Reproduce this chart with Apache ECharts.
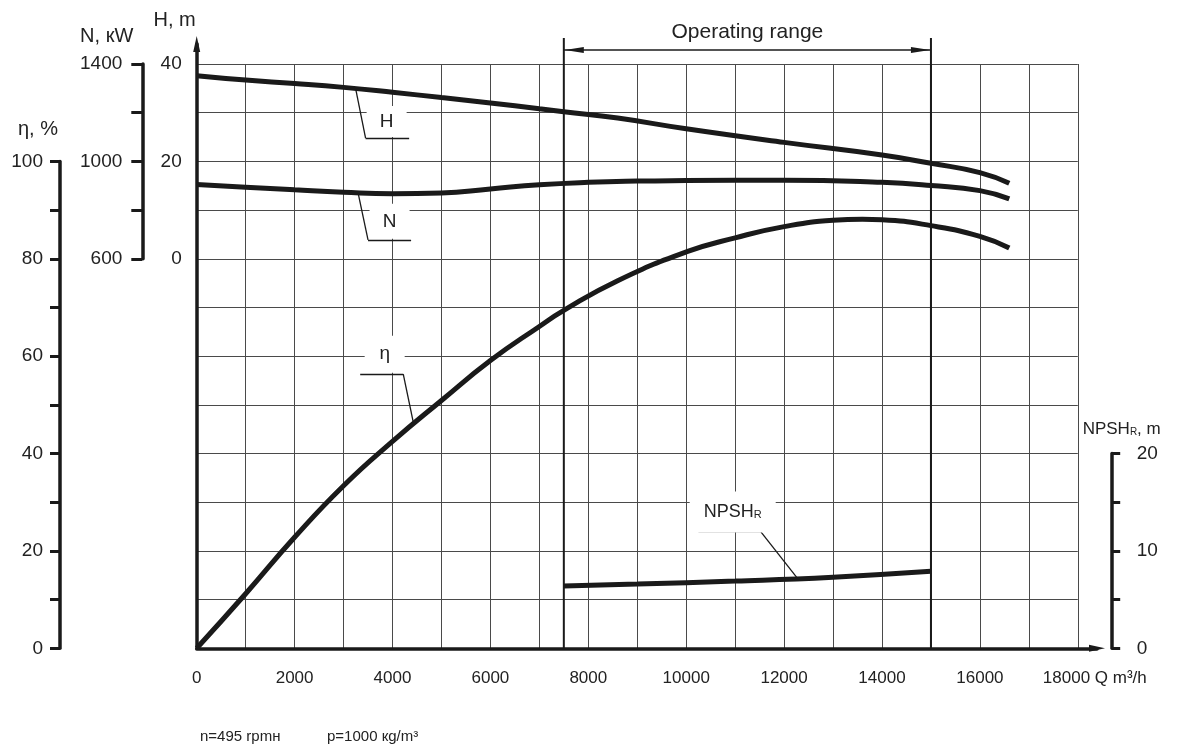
<!DOCTYPE html>
<html>
<head>
<meta charset="utf-8">
<title>Pump performance curves</title>
<script src="https://cdn.jsdelivr.net/npm/echarts@6/dist/echarts.min.js"></script>
<style>
  html, body { margin: 0; padding: 0; background: #fff; }
  #chart { width: 1177px; height: 749px; }
</style>
</head>
<body>
<div id="chart"></div>
<script>
// values, Q in m3/h
const headCurve = [[0, 37.6], [1000, 36.7], [2000, 36.0], [3000, 35.2], [4000, 34.2], [5000, 33.1], [6000, 32.0], [7000, 30.8], [7500, 30.2], [8600, 28.9], [10000, 26.7], [12000, 23.9], [14000, 21.3], [15000, 19.6], [16000, 17.7], [16600, 15.5]]
const powerCurve = [[0, 905], [1000, 894], [2000, 883], [3000, 873], [4000, 867], [5000, 870], [6000, 887], [7000, 904], [8000, 914], [9000, 919], [10000, 921], [12000, 923], [14000, 914], [15000, 901], [16000, 880], [16600, 846]]
const effCurve = [[0, 0], [1000, 11.2], [2000, 22.8], [3000, 33.4], [4000, 42.5], [5000, 50.9], [6000, 59.1], [7000, 66.1], [7500, 69.4], [8600, 75.5], [10000, 81.4], [11000, 84.3], [12000, 86.6], [13000, 87.9], [13600, 88.1], [14000, 88.0], [15000, 86.8], [16000, 84.6], [16600, 82.2]]
const npshCurve = [[7500, 6.4], [9000, 6.6], [11000, 6.9], [13000, 7.3], [15000, 7.9]]
const operatingRange = [7500, 15000]

// tick labels
const qLabels = [0, 2000, 4000, 6000, 8000, 10000, 12000, 14000, 16000, 18000]
const etaLabels = [0, 20, 40, 60, 80, 100]
const headLabels = [0, 20, 40]
const powerLabels = [600, 1000, 1400]
const npshLabels = [0, 10, 20]

// callouts, in Q / eta coordinates
const callouts = [
  { text: 'H', box: [3880, 108.2], leader: [[3250, 114.8], [3450, 104.8], [4340, 104.8]] },
  { text: 'N', box: [3940, 87.7], leader: [[3300, 93.4], [3500, 83.9], [4380, 83.9]] },
  { text: 'η', box: [3840, 60.4], leader: [[3340, 56.3], [4220, 56.3], [4425, 46.4]] },
  { text: '{a|NPSH}{r|R}', box: [10950, 28.0], leader: [[10250, 24.1], [11510, 24.1], [12270, 14.4]] }
]
const boxSizes = [[40, 31], [40, 35], [40, 37], [86, 41]]

const plot = { left: 196.7, right: 1077.8, top: 64, bottom: 648.3 }
const row = (plot.bottom - plot.top) / 12
const ink = '#1a1a1a'
const textColor = '#222'
const font = "'Liberation Sans', Arial, Helvetica, sans-serif"

const chart = echarts.init(document.getElementById('chart'), null, { renderer: 'canvas' })

function pick(list) {
  return v => (list.includes(v) ? String(v) : '')
}

function nameStyle(extra) {
  return Object.assign({ color: textColor, fontSize: 20, fontFamily: font }, extra)
}

function bracketAxis(grid, min, max, step, labels, opts) {
  return Object.assign({
    type: 'value', gridIndex: grid, min: min, max: max, interval: step,
    axisLine: { show: true, lineStyle: { color: ink, width: 3.5 } },
    axisTick: { show: true, length: 10, lineStyle: { color: ink, width: 3 } },
    axisLabel: { formatter: pick(labels), color: textColor, fontSize: 19, fontFamily: font, margin: 17 },
    splitLine: { show: false }
  }, opts)
}

function hiddenX(grid) {
  return { type: 'value', gridIndex: grid, show: false, min: 0, max: 1 }
}

function curve(name, data, yIndex) {
  return {
    name: name, type: 'line', xAxisIndex: 0, yAxisIndex: yIndex, data: data,
    showSymbol: false, smooth: 0.5, silent: true,
    lineStyle: { color: ink, width: 5, cap: 'butt' }, z: 3
  }
}

const markLines = []
callouts.forEach(c => {
  for (let i = 0; i < c.leader.length - 1; i++) {
    markLines.push([{ coord: c.leader[i] }, { coord: c.leader[i + 1] }])
  }
})

const effSeries = curve('η', effCurve, 0)
effSeries.markLine = {
  silent: true, symbol: 'none', animation: false,
  label: { show: false },
  lineStyle: { color: ink, width: 1.3, type: 'solid' },
  emphasis: { disabled: true },
  data: markLines
}
effSeries.markPoint = {
  silent: true, animation: false,
  data: callouts.map((c, i) => ({
    coord: c.box, symbol: 'rect', symbolSize: boxSizes[i],
    itemStyle: { color: '#fff' },
    label: {
      show: true, position: 'inside', formatter: c.text, color: textColor,
      fontSize: 19, fontFamily: font,
      rich: {
        a: { fontSize: 18, fontFamily: font, color: textColor },
        r: { fontSize: 11, fontFamily: font, color: textColor, verticalAlign: 'bottom', padding: [5, 0, 0, 0] }
      }
    }
  }))
}

const option = {
  animation: false,
  backgroundColor: '#fff',
  textStyle: { fontFamily: font },
  grid: [
    { left: plot.left, top: plot.top, width: plot.right - plot.left, height: plot.bottom - plot.top, outerBoundsMode: 'none' },
    { left: plot.left, top: 44, width: 1097 - plot.left, height: plot.bottom - 44, outerBoundsMode: 'none' },
    { left: 60, top: plot.top + 2 * row, width: 10, height: 10 * row, outerBoundsMode: 'none' },
    { left: 142.3, top: plot.top, width: 10, height: 4 * row, outerBoundsMode: 'none' },
    { left: 1111.7, top: plot.top + 8 * row, width: 10, height: 4 * row, outerBoundsMode: 'none' }
  ],
  xAxis: [
    {
      type: 'value', gridIndex: 0, min: 0, max: 18000, interval: 1000,
      axisLine: { show: false }, axisTick: { show: false },
      splitLine: { show: true, lineStyle: { color: '#4a4a4a', width: 1 } },
      axisLabel: {
        margin: 22, color: textColor, fontSize: 17, fontFamily: font,
        formatter: v => v === 18000 ? '{last|18000 Q m³/h}' : pick(qLabels)(v),
        rich: { last: { padding: [0, 0, 0, 34], fontSize: 17, fontFamily: font, color: textColor } }
      }
    },
    {
      type: 'value', gridIndex: 1, min: 0, max: 1,
      axisLine: { show: true, symbol: ['none', 'triangle'], symbolSize: [7, 16], lineStyle: { color: ink, width: 3.5 } },
      axisTick: { show: false }, axisLabel: { show: false }, splitLine: { show: false }
    },
    hiddenX(2), hiddenX(3), hiddenX(4)
  ],
  yAxis: [
    {
      type: 'value', gridIndex: 0, min: 0, max: 120, interval: 10,
      axisLine: { show: false }, axisTick: { show: false }, axisLabel: { show: false },
      splitLine: { show: true, lineStyle: { color: '#4a4a4a', width: 1 } }
    },
    {
      type: 'value', gridIndex: 0, min: -80, max: 40, interval: 10, position: 'left',
      axisLine: { show: false }, axisTick: { show: false }, splitLine: { show: false },
      axisLabel: { formatter: pick(headLabels), color: textColor, fontSize: 19, fontFamily: font, margin: 15 },
      name: 'H, m', nameLocation: 'end', nameGap: 34,
      nameTextStyle: nameStyle({ align: 'right', padding: [0, 1, 0, 0] })
    },
    { type: 'value', gridIndex: 0, min: -1000, max: 1400, show: false },
    { type: 'value', gridIndex: 0, min: 0, max: 60, show: false },
    {
      type: 'value', gridIndex: 1, min: 0, max: 1,
      axisLine: { show: true, symbol: ['none', 'triangle'], symbolSize: [7, 16], lineStyle: { color: ink, width: 3.5 } },
      axisTick: { show: false }, axisLabel: { show: false }, splitLine: { show: false }
    },
    bracketAxis(2, 0, 100, 10, etaLabels, {
      position: 'left', name: 'η, %', nameLocation: 'end', nameGap: 22,
      nameTextStyle: nameStyle({ align: 'right', padding: [0, 2, 0, 0] })
    }),
    bracketAxis(3, 600, 1400, 200, powerLabels, {
      position: 'left', name: 'N, кW', nameLocation: 'end', nameGap: 18,
      axisLabel: { formatter: pick(powerLabels), color: textColor, fontSize: 19, fontFamily: font, margin: 20 },
      axisTick: { show: true, length: 11, lineStyle: { color: ink, width: 3 } },
      nameTextStyle: nameStyle({ align: 'right', padding: [0, 9, 0, 0] })
    }),
    bracketAxis(4, 0, 20, 5, npshLabels, {
      position: 'right', name: '{a|NPSH}{r|R}{a|, m}', nameLocation: 'end', nameGap: 16,
      axisLabel: { formatter: pick(npshLabels), color: textColor, fontSize: 19, fontFamily: font, margin: 15 },
      axisTick: { show: true, length: 8.5, lineStyle: { color: ink, width: 3 } },
      nameTextStyle: {
        color: textColor, fontSize: 17, fontFamily: font, align: 'center', padding: [0, 0, 0, 20],
        rich: {
          a: { fontSize: 17, fontFamily: font, color: textColor },
          r: { fontSize: 10, fontFamily: font, color: textColor, verticalAlign: 'bottom', padding: [5, 0, 0, 0] }
        }
      }
    })
  ],
  series: [
    curve('H', headCurve, 1),
    curve('N', powerCurve, 2),
    effSeries,
    curve('NPSHR', npshCurve, 3),
    {
      name: 'Operating range', type: 'custom', xAxisIndex: 0, yAxisIndex: 0,
      silent: true, clip: false, z: 4,
      data: [operatingRange],
      encode: { x: [0, 1] },
      renderItem: function (params, api) {
        const a = api.coord([api.value(0), 0])
        const b = api.coord([api.value(1), 0])
        const top = params.coordSys.y
        const yArrow = top - 14
        const thick = { stroke: ink, lineWidth: 2 }
        const thin = { stroke: ink, lineWidth: 1.3 }
        return {
          type: 'group',
          children: [
            { type: 'line', shape: { x1: a[0], y1: a[1], x2: a[0], y2: top - 26 }, style: thick },
            { type: 'line', shape: { x1: b[0], y1: b[1], x2: b[0], y2: top - 26 }, style: thick },
            { type: 'line', shape: { x1: a[0], y1: yArrow, x2: b[0], y2: yArrow }, style: thin },
            { type: 'polygon', shape: { points: [[a[0] + 1, yArrow], [a[0] + 20, yArrow - 3], [a[0] + 20, yArrow + 3]] }, style: { fill: ink } },
            { type: 'polygon', shape: { points: [[b[0] - 1, yArrow], [b[0] - 20, yArrow - 3], [b[0] - 20, yArrow + 3]] }, style: { fill: ink } },
            {
              type: 'text', x: (a[0] + b[0]) / 2, y: top - 32,
              style: { text: 'Operating range', fill: textColor, font: '21px ' + font, textAlign: 'center', textVerticalAlign: 'middle' }
            }
          ]
        }
      }
    }
  ],
  graphic: [
    { type: 'text', left: 200, top: 729, style: { text: 'n=495 rpmн', fill: textColor, font: '15px ' + font } },
    { type: 'text', left: 327, top: 729, style: { text: 'p=1000 кg/m³', fill: textColor, font: '15px ' + font } }
  ]
}

chart.setOption(option)
window.addEventListener('resize', () => chart.resize())
</script>
</body>
</html>
